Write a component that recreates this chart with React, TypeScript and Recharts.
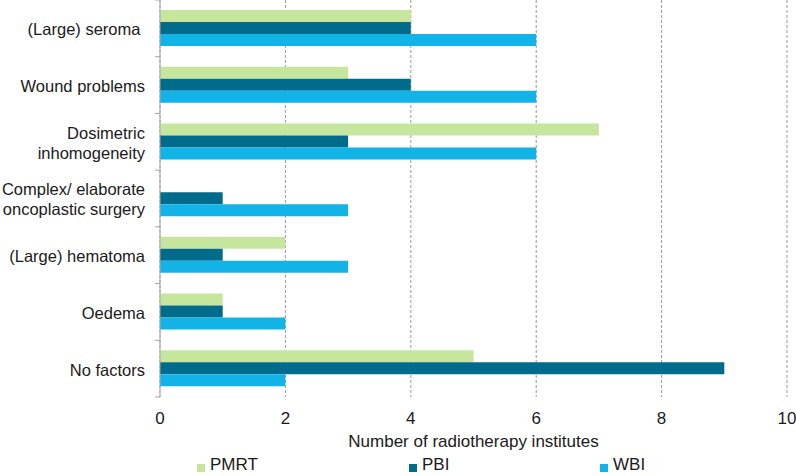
import { BarChart, Bar, XAxis, YAxis, CartesianGrid, Legend } from 'recharts';

const categories = [
  '(Large) seroma ',
  'Wound problems',
  'Dosimetric\ninhomogeneity',
  'Complex/ elaborate\noncoplastic surgery',
  '(Large) hematoma',
  'Oedema',
  'No factors',
];
const pmrt = [4, 3, 7, 0, 2, 1, 5];
const pbi = [4, 4, 3, 1, 1, 1, 9];
const wbi = [6, 6, 6, 3, 3, 2, 2];
const xTicks = [0, 2, 4, 6, 8, 10];

const data = categories.map((name, i) => ({ name, PMRT: pmrt[i], PBI: pbi[i], WBI: wbi[i] }));

const W = 796;
const H = 476;
const AXIS_X = 160;
const PLOT_H = 397;
const BAND = PLOT_H / categories.length;
const FONT = '"Liberation Sans", Arial, sans-serif';

const colors = { PMRT: '#C6E69E', PBI: '#006B8A', WBI: '#12B4E8' };

const CategoryTick = (props: any) => {
  const { y, payload, index } = props;
  const lines = String(payload.value).split('\n');
  const lh = 20;
  const start = -((lines.length - 1) * lh) / 2;
  return (
    <g>
      <line x1={AXIS_X - 5} x2={AXIS_X} y1={y - BAND / 2} y2={y - BAND / 2} stroke="#A6A6A6" />
      {index === categories.length - 1 && (
        <line x1={AXIS_X - 5} x2={AXIS_X} y1={y + BAND / 2} y2={y + BAND / 2} stroke="#A6A6A6" />
      )}
      <text
        x={AXIS_X - 15}
        y={y}
        textAnchor="end"
        fill="#1a1a1a"
        fontSize={16.5}
        fontFamily={FONT}
        style={{ whiteSpace: 'pre' }}
      >
        {lines.map((l, i) => (
          <tspan key={i} x={AXIS_X - 15} y={y + start + i * lh + 1} dy="0.36em">
            {l}
          </tspan>
        ))}
      </text>
    </g>
  );
};

const legendItems = [
  { key: 'PMRT', left: 197 },
  { key: 'PBI', left: 409 },
  { key: 'WBI', left: 600 },
];

const LegendContent = () => (
  <div style={{ position: 'relative', width: W, height: 24 }}>
    {legendItems.map((it) => (
      <div
        key={it.key}
        style={{
          position: 'absolute',
          left: it.left,
          top: 4,
          display: 'flex',
          alignItems: 'center',
          fontFamily: FONT,
          fontSize: 17,
          lineHeight: '18px',
          color: '#1a1a1a',
        }}
      >
        <span
          style={{
            display: 'inline-block',
            width: 8,
            height: 8,
            background: colors[it.key as keyof typeof colors],
            marginRight: 5,
            marginTop: 5,
          }}
        />
        {it.key}
      </div>
    ))}
  </div>
);

export default function App() {
  return (
    <div style={{ position: 'absolute', left: 0, top: 0, width: W, height: H, background: '#fff' }}>
      <BarChart
        width={W}
        height={H}
        data={data}
        layout="vertical"
        margin={{ top: 0, right: 9, left: 0, bottom: 0 }}
        barSize={12}
        barGap={0}
      >
        <CartesianGrid horizontal={false} stroke="#999" strokeDasharray="3 2" />
        <XAxis
          type="number"
          domain={[0, 10]}
          ticks={xTicks}
          axisLine={false}
          tickLine={false}
          tickMargin={9}
          height={55}
          tick={{ fill: '#1a1a1a', fontSize: 17, fontFamily: FONT }}
          label={{
            value: 'Number of radiotherapy institutes',
            position: 'insideBottom',
            offset: 5,
            fill: '#1a1a1a',
            fontSize: 17,
            fontFamily: FONT,
          }}
        />
        <YAxis
          type="category"
          dataKey="name"
          width={AXIS_X}
          axisLine={{ stroke: '#A6A6A6' }}
          tickLine={false}
          tick={<CategoryTick />}
          interval={0}
        />
        <Legend verticalAlign="bottom" height={24} content={<LegendContent />} />
        <Bar dataKey="PMRT" fill={colors.PMRT} isAnimationActive={false} />
        <Bar dataKey="PBI" fill={colors.PBI} isAnimationActive={false} />
        <Bar dataKey="WBI" fill={colors.WBI} isAnimationActive={false} />
      </BarChart>
    </div>
  );
}
